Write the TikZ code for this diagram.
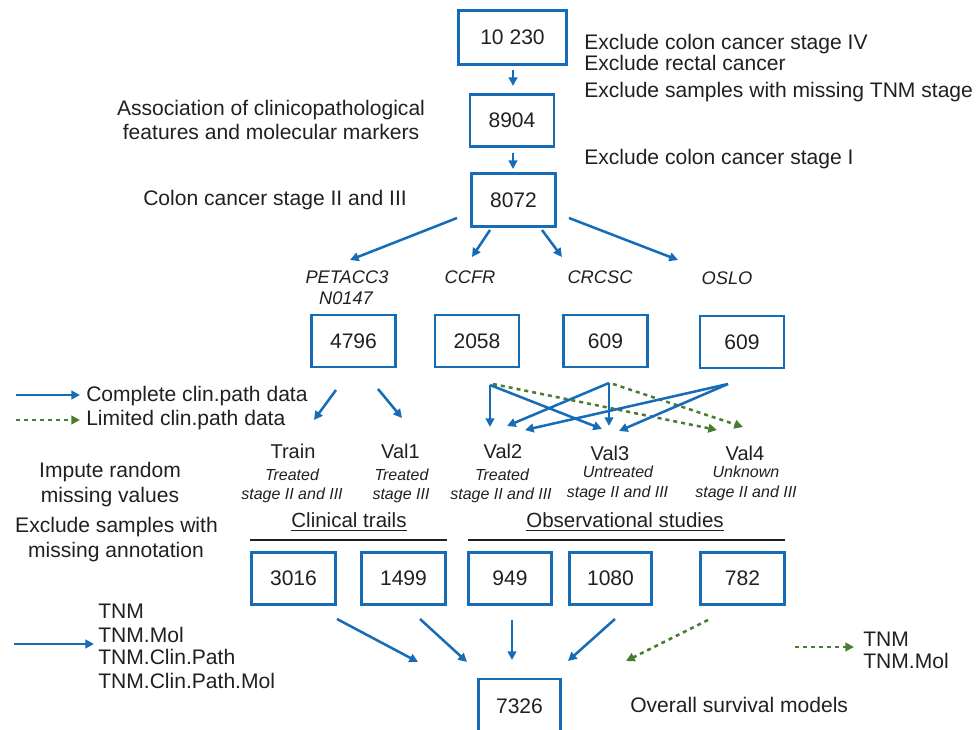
\documentclass[tikz,border=0pt]{standalone}
\usepackage{fontspec}
\setmainfont{Liberation Sans}
\usetikzlibrary{arrows.meta,calc}
\definecolor{myblue}{RGB}{22,108,183}
\definecolor{mygreen}{RGB}{72,125,48}
\definecolor{ink}{RGB}{35,31,32}
\begin{document}
\begin{tikzpicture}[x=0.75pt,y=-0.75pt,
  box/.style={draw=myblue,line width=2.2pt,minimum width=63pt,minimum height=39pt,inner sep=0pt,font=\fontsize{15.8}{19}\selectfont,text=ink},
  arr/.style={draw=myblue,line width=1.9pt,-{Triangle[length=6.5pt,width=6.5pt]}},
  darr/.style={draw=mygreen,line width=1.9pt,dash pattern=on 3pt off 3pt,-{Triangle[length=6.5pt,width=6.5pt]}},
  txt/.style={inner sep=0pt,font=\fontsize{15.8}{19}\selectfont,text=ink,anchor=base},
  ds/.style={inner sep=0pt,font=\fontsize{13.7}{16}\selectfont\itshape,text=ink,anchor=base},
  grp/.style={inner sep=0pt,font=\fontsize{15}{18}\selectfont,text=ink,anchor=base},
  sub/.style={inner sep=0pt,font=\fontsize{12}{14}\selectfont\itshape,text=ink,anchor=base},
  rule/.style={draw=ink,line width=2pt},
]
\useasboundingbox (0,0) rectangle (976,730);

% ---- boxes
\node[box,minimum width=81pt,minimum height=40.5pt] (n10230) at (512.5,37.5) {10 230};
\node[box] (n8904) at (512,120.5) {8904};
\node[box,minimum height=39.75pt] (n8072) at (513.5,200) {8072};
\node[box] (n4796) at (353.5,341) {4796};
\node[box] (n2058) at (477,341) {2058};
\node[box] (n609a) at (605.5,341) {609};
\node[box] (n609b) at (742,342) {609};
\node[box] (n3016) at (293.5,578.5) {3016};
\node[box] (n1499) at (403.5,578.5) {1499};
\node[box,minimum width=62.25pt] (n949) at (510,578.5) {949};
\node[box,minimum width=61.5pt] (n1080) at (610.5,578.5) {1080};
\node[box] (n782) at (742.5,578.5) {782};
\node[box,minimum width=61.5pt,minimum height=40.5pt] (n7326) at (519.5,706) {7326};

% ---- right-hand texts at top
\node[txt,anchor=base west] (ex1) at (584,50) {Exclude colon cancer stage IV};
\node[txt,anchor=base west] (ex2) at (584,71) {Exclude rectal cancer};
\node[txt,anchor=base west] (ex3) at (584,98) {Exclude samples with missing TNM stage};
\node[txt,anchor=base west] (ex4) at (584,165) {Exclude colon cancer stage I};

% ---- left-hand texts at top
\node[txt] (as1) at (271,116) {Association of clinicopathological};
\node[txt] (as2) at (271,140) {features and molecular markers};
\node[txt] (col) at (275,206) {Colon cancer stage II and III};

% ---- dataset labels
\node[ds] (pet1) at (347,284) {PETACC3};
\node[ds] (pet2) at (346,305) {N0147};
\node[ds] (ccfr) at (470,284) {CCFR};
\node[ds] (crcsc) at (600,284) {CRCSC};
\node[ds] (oslo) at (727,285) {OSLO};

% ---- groups
\node[grp] (train) at (293,459) {Train};
\node[grp] (val1) at (400.5,459) {Val1};
\node[grp] (val2) at (503,459) {Val2};
\node[grp] (val3) at (610,461) {Val3};
\node[grp] (val4) at (745,461) {Val4};
\node[sub] (tra) at (292,481) {Treated};
\node[sub] (trb) at (292,500) {stage II and III};
\node[sub] (v1a) at (401.5,481) {Treated};
\node[sub] (v1b) at (401,500) {stage III};
\node[sub] (v2a) at (502,481) {Treated};
\node[sub] (v2b) at (501,500) {stage II and III};
\node[sub] (v3a) at (618,478) {Untreated};
\node[sub] (v3b) at (617.5,498) {stage II and III};
\node[sub] (v4a) at (746,478) {Unknown};
\node[sub] (v4b) at (746,498) {stage II and III};

% ---- study headings
\node[grp,font=\fontsize{15.4}{18}\selectfont] (clin) at (349,528) {\underline{Clinical trails}};
\node[grp,font=\fontsize{15.4}{18}\selectfont] (obs) at (625,528) {\underline{Observational studies}};
\draw[rule] (250,540) -- (447,540);
\draw[rule] (468,540) -- (785,540);

% ---- left side notes
\node[txt] (imp1) at (110,478) {Impute random};
\node[txt] (imp2) at (110,503) {missing values};
\node[txt] (exc1) at (116.5,533) {Exclude samples with};
\node[txt] (exc2) at (116,558) {missing annotation};

% ---- legend top-left
\coordinate (lgA) at (16,395);
\coordinate (lgB) at (16,420);
\node[txt,anchor=base west] (lgc) at (86,402) {Complete clin.path data};
\node[txt,anchor=base west] (lgl) at (86,426) {Limited clin.path data};
\draw[arr] (lgA) -- ($(lgA -| lgc.west)+(-6,0)$);
\draw[darr] (lgB) -- ($(lgB -| lgl.west)+(-6,0)$);

% ---- legend bottom-left
\node[txt,anchor=base west] (t1) at (98,619) {TNM};
\node[txt,anchor=base west] (t2) at (98,643) {TNM.Mol};
\node[txt,anchor=base west] (t3) at (98,665) {TNM.Clin.Path};
\node[txt,anchor=base west] (t4) at (98,689) {TNM.Clin.Path.Mol};
\coordinate (lgD) at (14,644);
\draw[arr] (lgD) -- ($(lgD -| t2.west)+(-4,0)$);

% ---- legend bottom-right
\node[txt,anchor=base west] (r1) at (863,647) {TNM};
\node[txt,anchor=base west] (r2) at (863,669) {TNM.Mol};
\coordinate (lgE) at (795,647);
\draw[darr] (lgE) -- ($(lgE -| r1.west)+(-9,0)$);

\node[txt,anchor=base west] (osm) at (630,713) {Overall survival models};

% ---- top chain
\draw[arr] ($(n10230)+(0.5,32.5)$) -- ($(n8904)+(1,-34.5)$);
\draw[arr] ($(n8904)+(1,32.5)$) -- ($(n8072)+(-0.5,-31)$);

% ---- 8072 to datasets
\draw[arr] ($(n8072)+(-56.5,18)$) -- ($(pet1.base)+(3,-24)$);
\draw[arr] ($(n8072)+(-23.5,30)$) -- ($(ccfr.base)+(2,-27)$);
\draw[arr] ($(n8072)+(28.5,30)$) -- ($(crcsc.base)+(-38,-27)$);
\draw[arr] ($(n8072)+(55.5,18)$) -- ($(oslo.base)+(-49,-25)$);

% ---- 4796 to Train / Val1
\draw[arr] ($(n4796)+(-17.5,49)$) -- ($(train.base)+(21,-39)$);
\draw[arr] ($(n4796)+(24.5,48)$) -- ($(val1.base)+(1.5,-41)$);

% ---- crossing arrows to Val2-4
\coordinate (ccfrO) at ($(n2058)+(13,44)$);
\coordinate (ccfrG) at ($(n2058)+(16,43)$);
\coordinate (crcscO) at ($(n609a)+(3.5,42)$);
\coordinate (crcscG) at ($(n609a)+(7.5,43)$);
\coordinate (osloO) at ($(n609b)+(-14,42)$);
\draw[darr] (ccfrG) -- ($(val4.base)+(-28,-31)$);
\draw[darr] (crcscG) -- ($(val4.base)+(-2,-34)$);
\draw[arr] (ccfrO) -- ($(val2.base)+(-13,-32)$);
\draw[arr] (ccfrO) -- ($(val3.base)+(-8,-32)$);
\draw[arr] (crcscO) -- ($(val2.base)+(4,-33)$);
\draw[arr] (crcscO) -- ($(val3.base)+(-1,-35)$);
\draw[arr] (osloO) -- ($(val2.base)+(22,-29)$);
\draw[arr] (osloO) -- ($(val3.base)+(9,-30)$);

% ---- to 7326
\draw[arr] ($(n3016)+(43.5,40.5)$) -- ($(n7326)+(-101.5,-44)$);
\draw[arr] ($(n1499)+(16.5,40.5)$) -- ($(n7326)+(-52.5,-44)$);
\draw[arr] ($(n949)+(2,41.5)$) -- ($(n7326)+(-7.5,-46)$);
\draw[arr] ($(n1080)+(4.5,40.5)$) -- ($(n7326)+(48.5,-45)$);
\draw[darr] ($(n782)+(-34.5,41.5)$) -- ($(n7326)+(106.5,-45)$);
\end{tikzpicture}
\end{document}
